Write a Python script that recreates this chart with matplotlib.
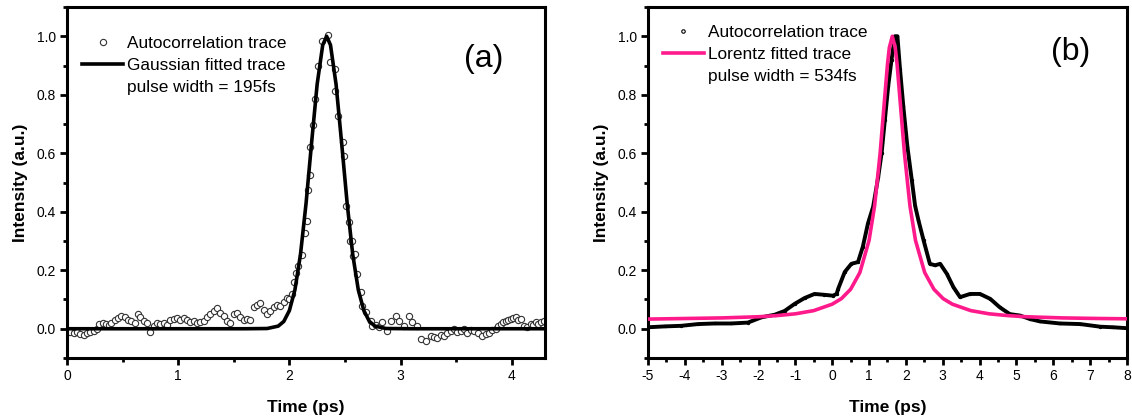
import numpy as np
import matplotlib
matplotlib.use("Agg")
import matplotlib.pyplot as plt
from matplotlib.lines import Line2D
from matplotlib.ticker import MultipleLocator

plt.rcParams['font.family'] = ['Liberation Sans', 'DejaVu Sans']
plt.rcParams['axes.unicode_minus'] = False

# ---- panel (a): autocorrelation points + Gaussian fit ----
a_time = [0.00, 0.03, 0.06, 0.09, 0.12, 0.15, 0.18, 0.21, 0.24, 0.27, 0.29, 0.32, 0.35, 0.38,
          0.40, 0.43, 0.46, 0.49, 0.52, 0.55, 0.58, 0.61, 0.64, 0.66, 0.69, 0.72, 0.75, 0.78,
          0.81, 0.84, 0.87, 0.90, 0.93, 0.96, 0.99, 1.02, 1.05, 1.08, 1.11, 1.14, 1.17, 1.20,
          1.23, 1.26, 1.29, 1.32, 1.35, 1.38, 1.41, 1.44, 1.47, 1.50, 1.53, 1.56, 1.59, 1.62,
          1.65, 1.68, 1.71, 1.74, 1.77, 1.80, 1.83, 1.86, 1.89, 1.92, 1.95, 1.98, 2.00, 2.02,
          2.045, 2.06, 2.08, 2.114, 2.144, 2.16, 2.165, 2.19, 2.19, 2.216, 2.234, 2.26, 2.295,
          2.345, 2.37, 2.41, 2.41, 2.44, 2.485, 2.495, 2.505, 2.54, 2.545, 2.565, 2.575, 2.59,
          2.61, 2.64, 2.655, 2.685, 2.73, 2.745, 2.78, 2.81, 2.835, 2.88, 2.91, 2.955, 2.985,
          3.03, 3.075, 3.105, 3.15, 3.18, 3.225, 3.27, 3.30, 3.33, 3.36, 3.39, 3.42, 3.45,
          3.48, 3.51, 3.54, 3.57, 3.60, 3.63, 3.66, 3.70, 3.735, 3.765, 3.795, 3.825, 3.855,
          3.88, 3.90, 3.925, 3.945, 3.97, 3.99, 4.01, 4.035, 4.06, 4.08, 4.11, 4.14, 4.17,
          4.19, 4.215, 4.24, 4.26, 4.29]
a_signal = [-0.012, -0.012, -0.015, -0.012, -0.018, -0.020, -0.015, -0.012, -0.008, -0.002, 0.015,
            0.018, 0.015, 0.012, 0.020, 0.030, 0.038, 0.045, 0.040, 0.030, 0.028, 0.020, 0.050,
            0.040, 0.025, 0.018, -0.010, 0.010, 0.020, 0.015, 0.018, 0.012, 0.030, 0.035, 0.038,
            0.030, 0.038, 0.030, 0.022, 0.028, 0.020, 0.022, 0.025, 0.040, 0.050, 0.062, 0.072,
            0.055, 0.045, 0.025, 0.020, 0.050, 0.055, 0.040, 0.030, 0.035, 0.030, 0.075, 0.080,
            0.088, 0.065, 0.050, 0.060, 0.075, 0.082, 0.078, 0.090, 0.105, 0.100, 0.120,
            0.160, 0.190, 0.215, 0.251, 0.326, 0.370, 0.473, 0.526, 0.623, 0.697, 0.787, 0.898,
            0.984, 1.003, 0.912, 0.887, 0.812, 0.726, 0.640, 0.589, 0.420, 0.365, 0.300, 0.300,
            0.250, 0.257, 0.188, 0.125, 0.079, 0.056, 0.028, 0.010, 0.012, 0.005, 0.022, -0.007,
            0.028, 0.045, 0.028, 0.010, 0.045, 0.022, 0.010, -0.036, -0.041, -0.024, -0.028,
            -0.030, -0.020, -0.024, -0.013, -0.008, -0.001, -0.010, -0.007, -0.002, -0.013,
            -0.005, -0.007, -0.015, -0.024, -0.018, -0.013, -0.005, -0.001, 0.010, 0.016,
            0.022, 0.028, 0.030, 0.034, 0.036, 0.039, 0.030, 0.034, 0.010, 0.005, 0.016, 0.012,
            0.022, 0.015, 0.022, 0.028]

a_fit_time = [0.0, 1.6, 1.8, 1.9, 1.95, 2.0, 2.05, 2.1, 2.15, 2.2, 2.25, 2.3, 2.335, 2.37,
              2.42, 2.47, 2.52, 2.57, 2.62, 2.67, 2.72, 2.77, 2.87, 3.1, 4.3]
a_fit = [0.0, 0.0, 0.0008, 0.009, 0.025, 0.062, 0.133, 0.254, 0.428, 0.636, 0.836, 0.970,
         1.0, 0.970, 0.836, 0.636, 0.428, 0.254, 0.133, 0.062, 0.025, 0.009, 0.0008, 0.0, 0.0]

# ---- panel (b): autocorrelation trace + Lorentz fit ----
b_time = [-5.0, -4.55, -4.1, -3.64, -3.19, -2.74, -2.29, -1.92, -1.56, -1.29, -1.02, -0.75,
          -0.48, -0.21, 0.02, 0.12, 0.16, 0.34, 0.52, 0.70, 0.83, 0.97, 1.11, 1.25, 1.34,
          1.43, 1.52, 1.61, 1.70, 1.77, 1.84, 1.93, 2.04, 2.16, 2.25, 2.34, 2.48, 2.65, 2.79,
          2.93, 3.11, 3.29, 3.47, 3.74, 4.01, 4.29, 4.55, 4.82, 5.10, 5.37, 5.64, 6.18, 6.73,
          7.27, 7.63, 7.99]
b_signal = [0.005, 0.008, 0.010, 0.016, 0.018, 0.018, 0.021, 0.039, 0.048, 0.061, 0.085, 0.105,
            0.119, 0.116, 0.113, 0.119, 0.136, 0.194, 0.222, 0.228, 0.280, 0.360, 0.417, 0.520,
            0.600, 0.715, 0.830, 0.920, 1.000, 1.000, 0.887, 0.760, 0.623, 0.508, 0.420, 0.371,
            0.302, 0.222, 0.217, 0.222, 0.188, 0.142, 0.108, 0.119, 0.119, 0.102, 0.073, 0.050,
            0.045, 0.033, 0.025, 0.018, 0.016, 0.007, 0.005, 0.002]

b_fit_time = [-5.0, -4.0, -3.0, -2.0, -1.5, -1.0, -0.5, 0.0, 0.25, 0.5, 0.75, 1.0, 1.15, 1.3,
              1.4, 1.5, 1.55, 1.63, 1.71, 1.76, 1.86, 1.96, 2.11, 2.26, 2.51, 2.76, 3.01,
              3.26, 3.76, 4.26, 4.76, 5.26, 6.26, 7.26, 8.0]
b_fit = [0.033, 0.035, 0.037, 0.041, 0.045, 0.051, 0.062, 0.084, 0.103, 0.135, 0.192, 0.302,
         0.420, 0.600, 0.753, 0.905, 0.961, 1.0, 0.961, 0.905, 0.753, 0.600, 0.420, 0.302,
         0.192, 0.135, 0.103, 0.084, 0.062, 0.051, 0.045, 0.041, 0.037, 0.035, 0.034]

pink = '#FF1A8C'

fig = plt.figure(figsize=(11.32, 4.17), dpi=100)
ax1 = fig.add_axes([0.0592, 0.1415, 0.4223, 0.8417])
ax2 = fig.add_axes([0.5724, 0.1415, 0.4232, 0.8417])


def style_axes(ax):
    for sp in ax.spines.values():
        sp.set_linewidth(2.2)
    ax.tick_params(which='major', direction='out', length=5, width=2, labelsize=10,
                   top=False, right=False, pad=3)
    ax.tick_params(which='minor', direction='out', length=3, width=2, top=False, right=False)
    ax.yaxis.set_major_locator(MultipleLocator(0.2))
    ax.yaxis.set_minor_locator(MultipleLocator(0.1))
    ax.set_ylim(-0.1, 1.1)
    ax.yaxis.set_major_formatter(plt.FuncFormatter(lambda v, p: f'{v:.1f}'))
    ax.set_xlabel('Time (ps)', fontsize=12.5, fontweight='bold', labelpad=12)
    ax.set_ylabel('Intensity (a.u.)', fontsize=12.5, fontweight='bold', labelpad=6)


# panel (a)
ax1.plot(a_time, a_signal, linestyle='none', marker='o', ms=4.5, mfc='white',
         mec='#333333', mew=0.8, zorder=2)
ax1.plot(a_fit_time, a_fit, color='black', lw=2.6, zorder=3)
ax1.set_xlim(0, 4.3)
ax1.xaxis.set_major_locator(MultipleLocator(1))
ax1.xaxis.set_minor_locator(MultipleLocator(0.5))
style_axes(ax1)
ax1.text(0.872, 0.852, '(a)', transform=ax1.transAxes, fontsize=23, ha='center', va='center')

h_a = [Line2D([], [], linestyle='none', marker='o', ms=4.5, mfc='white', mec='#333333', mew=0.8),
       Line2D([], [], color='black', lw=2.6),
       Line2D([], [], linestyle='none')]
ax1.legend(h_a, ['Autocorrelation trace', 'Gaussian fitted trace', 'pulse width = 195fs'],
           loc='upper left', bbox_to_anchor=(0.031, 0.918), frameon=False, fontsize=12.4,
           handlelength=2.4, handletextpad=0.2, labelspacing=0.4, borderaxespad=0,
           borderpad=0)

# panel (b)
ax2.plot(b_time, b_signal, color='black', lw=2.8, marker='o', ms=1.8, mfc='black',
         mec='black', mew=0.6, zorder=2)
ax2.plot(b_fit_time, b_fit, color=pink, lw=2.6, zorder=3)
ax2.set_xlim(-5, 8)
ax2.xaxis.set_major_locator(MultipleLocator(1))
ax2.xaxis.set_minor_locator(MultipleLocator(0.5))
style_axes(ax2)
ax2.text(0.883, 0.872, '(b)', transform=ax2.transAxes, fontsize=23, ha='center', va='center')

h_b = [Line2D([], [], linestyle='none', marker='o', ms=2.5, mfc='white', mec='black', mew=0.8),
       Line2D([], [], color=pink, lw=2.6),
       Line2D([], [], linestyle='none')]
ax2.legend(h_b, ['Autocorrelation trace', 'Lorentz fitted trace', 'pulse width = 534fs'],
           loc='upper left', bbox_to_anchor=(0.031, 0.948), frameon=False, fontsize=12.4,
           handlelength=2.4, handletextpad=0.2, labelspacing=0.4, borderaxespad=0,
           borderpad=0)

fig.savefig('out.png', dpi=100)
